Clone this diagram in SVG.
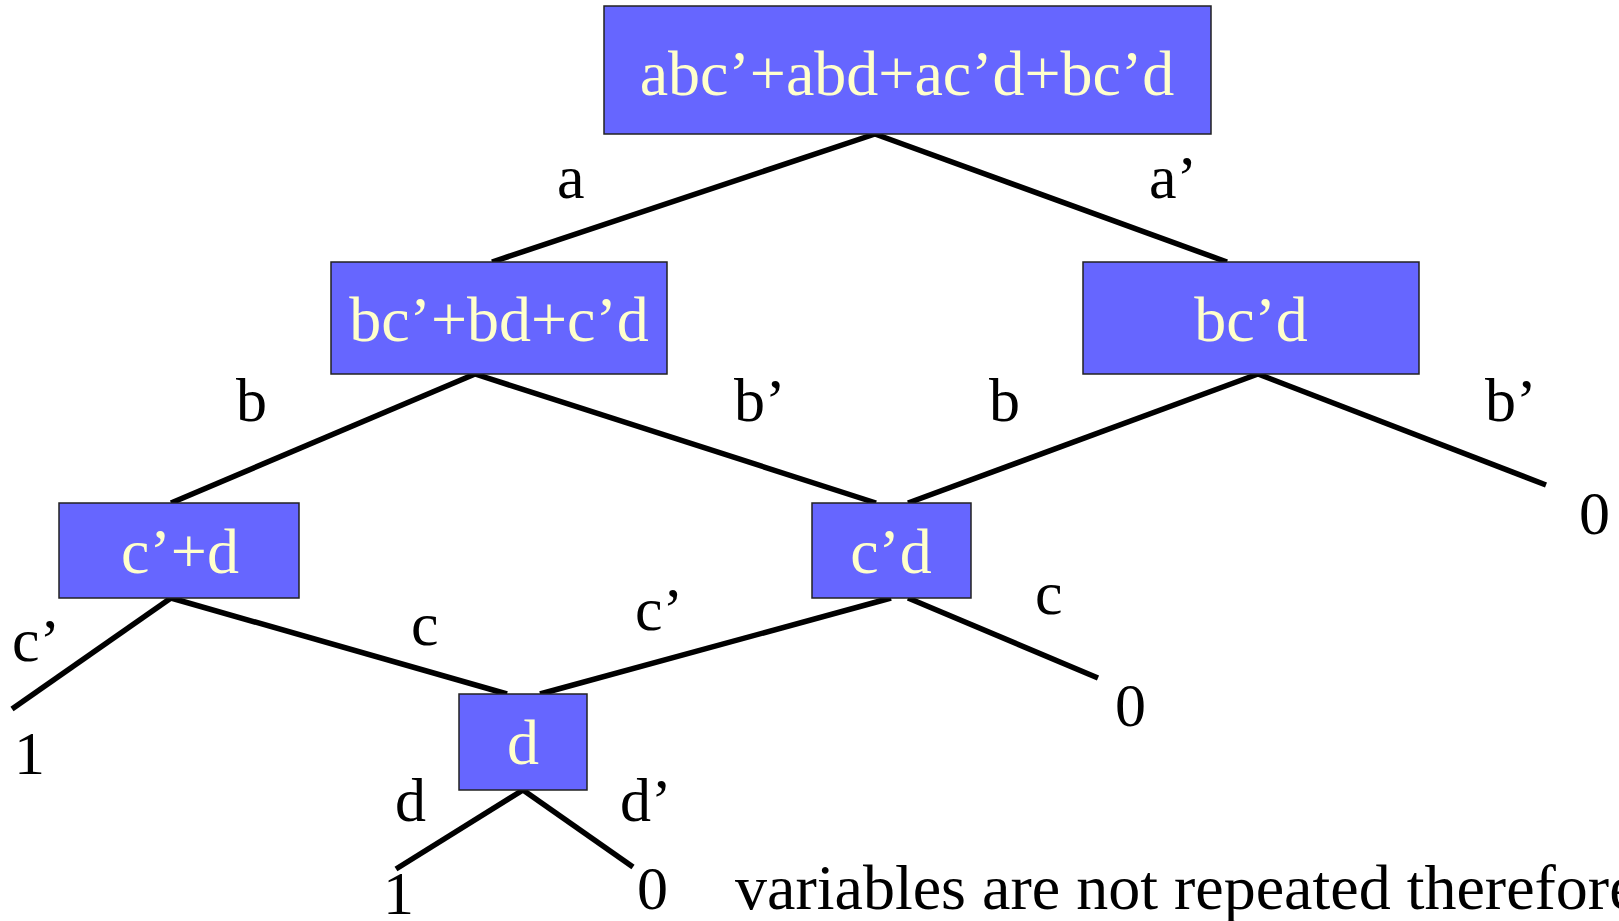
<svg xmlns="http://www.w3.org/2000/svg" width="1619" height="921" viewBox="0 0 1619 921">
<style>
.box{fill:#6666FF;stroke:#222;stroke-width:1.5}
.bt{font-family:"Liberation Serif",serif;font-size:64px;fill:#FFFFCC;text-anchor:middle}
.lb{font-family:"Liberation Serif",serif;font-size:62px;fill:#000}
.cn line{stroke:#000;stroke-width:5.5;stroke-linecap:butt}
</style>
<rect width="1619" height="921" fill="#fff"/>
<g class="cn" id="connectors">
<line x1="875" y1="134" x2="492" y2="262"/>
<line x1="875" y1="134" x2="1227" y2="262"/>
<line x1="475" y1="374" x2="171" y2="503"/>
<line x1="475" y1="374" x2="876" y2="503"/>
<line x1="1258" y1="374" x2="908" y2="503"/>
<line x1="1258" y1="374" x2="1546" y2="485"/>
<line x1="171" y1="598" x2="12" y2="709"/>
<line x1="171" y1="598" x2="507" y2="694"/>
<line x1="891" y1="598" x2="540" y2="694"/>
<line x1="908" y1="598" x2="1098" y2="678"/>
<line x1="523" y1="790" x2="396" y2="869"/>
<line x1="523" y1="790" x2="633" y2="867"/>
</g>
<g id="root"><rect class="box" x="604" y="6" width="607" height="128"/><text class="bt" x="907" y="95">abc’+abd+ac’d+bc’d</text></g>
<g id="n-left"><rect class="box" x="331" y="262" width="336" height="112"/><text class="bt" x="499" y="341">bc’+bd+c’d</text></g>
<g id="n-right"><rect class="box" x="1083" y="262" width="336" height="112"/><text class="bt" x="1251" y="341">bc’d</text></g>
<g id="n-cpd"><rect class="box" x="59" y="503" width="240" height="95"/><text class="bt" x="180" y="573">c’+d</text></g>
<g id="n-cd"><rect class="box" x="812" y="503" width="159" height="95"/><text class="bt" x="891" y="573">c’d</text></g>
<g id="n-d"><rect class="box" x="459" y="694" width="128" height="96"/><text class="bt" x="523" y="764">d</text></g>
<g id="labels">
<text class="lb" x="557" y="198">a</text>
<text class="lb" x="1149" y="198">a’</text>
<text class="lb" x="236" y="421">b</text>
<text class="lb" x="734" y="421">b’</text>
<text class="lb" x="989" y="421">b</text>
<text class="lb" x="1485" y="421">b’</text>
<text class="lb" x="1579" y="534">0</text>
<text class="lb" x="12" y="661">c’</text>
<text class="lb" x="411" y="645">c</text>
<text class="lb" x="635" y="630">c’</text>
<text class="lb" x="1035" y="614">c</text>
<text class="lb" x="1115" y="726">0</text>
<text class="lb" x="14" y="774">1</text>
<text class="lb" x="395" y="821">d</text>
<text class="lb" x="620" y="821">d’</text>
<text class="lb" x="383" y="914">1</text>
<text class="lb" x="637" y="909">0</text>
<text class="lb" x="735" y="909" style="font-size:64px">variables are not repeated therefore</text>
</g>
</svg>
